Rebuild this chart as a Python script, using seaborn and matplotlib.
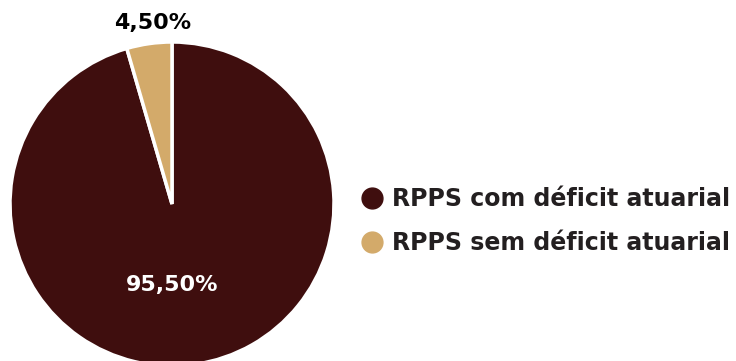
import matplotlib
matplotlib.use("Agg")
import matplotlib.pyplot as plt
from matplotlib.lines import Line2D
import seaborn as sns

# Share of RPPS with / without actuarial deficit
categories = ["RPPS com déficit atuarial", "RPPS sem déficit atuarial"]
shares = [95.50, 4.50]
colors = ["#3F0E0E", "#D3AA6A"]
text_color = "#231F20"

sns.set_theme(style="white")
plt.rcParams["font.family"] = ["DejaVu Sans"]

fig = plt.figure(figsize=(7.36, 3.61), dpi=100)
W, H = 736, 361

# Pie placed in its own square axes (pixel box: x 10..334, y 42..366 from top)
cx, cy, r = 172, 204, 162
ax = fig.add_axes([(cx - r) / W, (H - (cy + r)) / H, 2 * r / W, 2 * r / H])
ax.pie(
    shares,
    colors=colors,
    startangle=90,
    counterclock=False,
    radius=1.0,
    wedgeprops=dict(edgecolor="white", linewidth=2.5),
)
ax.set_xlim(-1, 1)
ax.set_ylim(-1, 1)
ax.set_aspect("auto")
ax.axis("off")

def fmt(v):
    return f"{v:.2f}".replace(".", ",") + "%"

# value labels
ax.text(0.0, -0.5, fmt(shares[0]), color="white", fontsize=16,
        fontweight="bold", ha="center", va="center")
ax.text(-0.12, 1.12, fmt(shares[1]), color="black", fontsize=16,
        fontweight="bold", ha="center", va="center", clip_on=False)

# legend with round markers
handles = [Line2D([0], [0], marker="o", linestyle="none", markersize=15,
                  markerfacecolor=c, markeredgecolor=c) for c in colors]
leg = fig.legend(handles, categories, loc="center left",
                 bbox_to_anchor=(360 / W, 1 - 221 / H), frameon=False,
                 borderpad=0, borderaxespad=0,
                 handletextpad=0.35, labelspacing=0.85, handlelength=1.0,
                 prop=dict(family="DejaVu Sans", weight="bold", size=17))
for t in leg.get_texts():
    t.set_color(text_color)

fig.savefig("out.png", dpi=100, facecolor="white")
